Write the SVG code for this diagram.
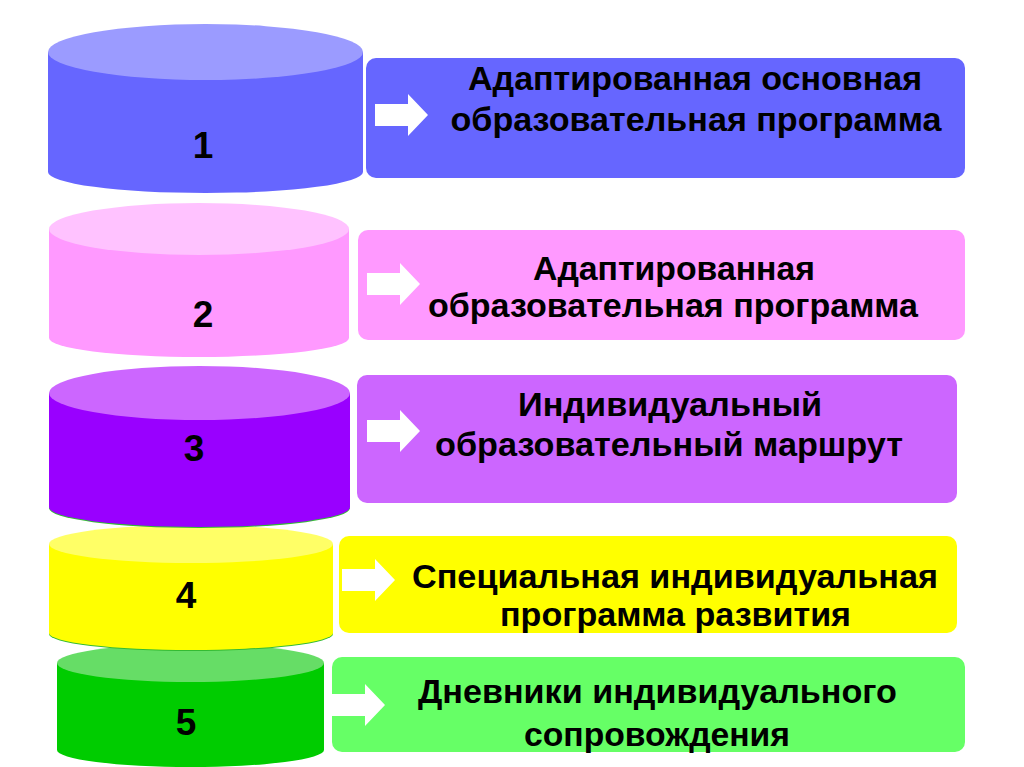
<svg xmlns="http://www.w3.org/2000/svg" width="1024" height="767" viewBox="0 0 1024 767">
<style>
.t{font-family:"Liberation Sans",Arial,sans-serif;font-weight:bold;font-size:33px;fill:#000;text-anchor:middle}
.n{font-family:"Liberation Sans",Arial,sans-serif;font-weight:bold;font-size:37px;fill:#000;text-anchor:middle}
.arr{fill:#fff}
</style>
<defs>
<path id="ar" d="M0,-11 H33 V-21 L53,0 L33,21 V11 H0 Z"/>
</defs>
<rect width="1024" height="767" fill="#fff"/>

<g id="cyl5">
<path d="M57,663 V750 A133.5,17 0 0 0 324,750 V663 Z" fill="#00cc00"/>
<ellipse cx="190.5" cy="663" rx="133.5" ry="19" fill="#66dd66"/>
<text class="n" x="186" y="735">5</text>
</g>
<g id="cyl4">
<ellipse cx="191" cy="634" rx="142" ry="17" fill="#33bb33"/>
<path d="M49,544 V633 A142,17 0 0 0 333,633 V544 Z" fill="#ffff00"/>
<ellipse cx="191" cy="544" rx="142" ry="19" fill="#ffff66"/>
<text class="n" x="186" y="608">4</text>
</g>
<g id="cyl3">
<ellipse cx="199.5" cy="508" rx="150.5" ry="20" fill="#33bb33"/>
<path d="M49,393 V507 A150.5,20 0 0 0 350,507 V393 Z" fill="#9900ff"/>
<ellipse cx="199.5" cy="393" rx="150.5" ry="27" fill="#cc66ff"/>
<text class="n" x="194" y="461">3</text>
</g>
<g id="cyl2">
<path d="M49,229 V338 A150,19 0 0 0 349,338 V229 Z" fill="#ff99ff"/>
<ellipse cx="199" cy="229" rx="150" ry="26" fill="#ffc2ff"/>
<text class="n" x="203" y="327">2</text>
</g>
<g id="cyl1">
<path d="M48,52 V172 A157.5,21 0 0 0 363,172 V52 Z" fill="#6666ff"/>
<ellipse cx="205.5" cy="52" rx="157.5" ry="28" fill="#9b9bff"/>
<text class="n" x="203" y="158">1</text>
</g>

<g id="box1">
<rect x="366" y="58" width="599" height="120" rx="10" fill="#6666ff"/>
<use href="#ar" x="375" y="115" class="arr"/>
<text class="t" x="695" y="90" textLength="454" lengthAdjust="spacingAndGlyphs">Адаптированная основная</text>
<text class="t" x="696" y="131" textLength="491" lengthAdjust="spacingAndGlyphs">образовательная программа</text>
</g>
<g id="box2">
<rect x="358" y="230" width="607" height="110" rx="10" fill="#ff99ff"/>
<use href="#ar" x="367" y="284" class="arr"/>
<text class="t" x="674" y="280" textLength="282" lengthAdjust="spacingAndGlyphs">Адаптированная</text>
<text class="t" x="673" y="317" textLength="490" lengthAdjust="spacingAndGlyphs">образовательная программа</text>
</g>
<g id="box3">
<rect x="357" y="375" width="600" height="128" rx="10" fill="#cc66ff"/>
<use href="#ar" x="367" y="431" class="arr"/>
<text class="t" x="670" y="416" textLength="304" lengthAdjust="spacingAndGlyphs">Индивидуальный</text>
<text class="t" x="669" y="456" textLength="468" lengthAdjust="spacingAndGlyphs">образовательный маршрут</text>
</g>
<g id="box4">
<rect x="339" y="536" width="618" height="97" rx="10" fill="#ffff00"/>
<use href="#ar" x="342" y="580" class="arr"/>
<text class="t" x="675" y="588" textLength="526" lengthAdjust="spacingAndGlyphs">Специальная индивидуальная</text>
<text class="t" x="675.5" y="626" textLength="351" lengthAdjust="spacingAndGlyphs">программа развития</text>
</g>
<g id="box5">
<rect x="332" y="657" width="633" height="95" rx="10" fill="#66ff66"/>
<use href="#ar" x="332" y="705" class="arr"/>
<text class="t" x="657.5" y="703" textLength="479" lengthAdjust="spacingAndGlyphs">Дневники индивидуального</text>
<text class="t" x="657" y="746" textLength="266" lengthAdjust="spacingAndGlyphs">сопровождения</text>
</g>
<g id="connectors"></g>
</svg>
